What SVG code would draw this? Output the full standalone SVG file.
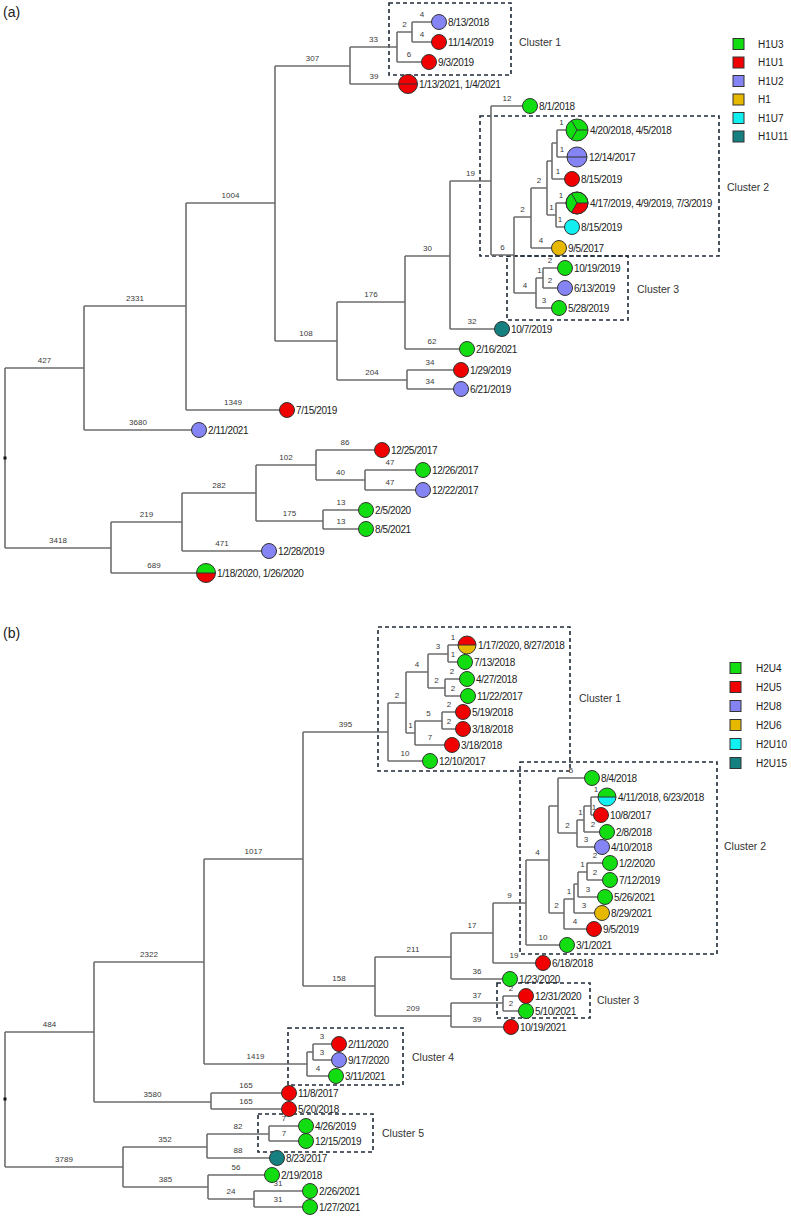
<svg xmlns="http://www.w3.org/2000/svg" width="791" height="1218" viewBox="0 0 791 1218">
<style>
.br{stroke:#6e6e6e;stroke-width:1.6;fill:none}
.bl{font-family:"Liberation Sans",Arial,sans-serif;font-size:8px;fill:#3a3a3a;text-anchor:middle}
.lf{font-family:"Liberation Sans",Arial,sans-serif;font-size:10px;letter-spacing:-0.4px;fill:#222}
.cb{fill:none;stroke:#1f2b38;stroke-width:1.6;stroke-dasharray:4 3}
.cl{font-family:"Liberation Sans",Arial,sans-serif;font-size:10.5px;fill:#333}
.lg{font-family:"Liberation Sans",Arial,sans-serif;font-size:10px;fill:#222}
.pl{font-family:"Liberation Sans",Arial,sans-serif;font-size:14px;fill:#222}
.tip{stroke:#333;stroke-width:1}
.sep{stroke:#333;stroke-width:1;fill:none}
.g{fill:#11dd11}.r{fill:#f00000}.b{fill:#8484f4}.y{fill:#e6b800}.c{fill:#11f0f0}.t{fill:#168080}
</style>

<text class="pl" x="3" y="17">(a)</text>
<text class="pl" x="3" y="638">(b)</text>

<!-- cluster outlines -->
<g id="clusters">
<rect class="cb" x="389" y="3" width="122" height="72"/>
<text class="cl" x="519" y="46">Cluster 1</text>
<rect class="cb" x="480" y="116" width="239" height="140"/>
<text class="cl" x="727" y="191">Cluster 2</text>
<rect class="cb" x="507" y="256" width="121" height="64"/>
<text class="cl" x="637" y="293">Cluster 3</text>

<rect class="cb" x="378" y="627" width="192" height="144"/>
<text class="cl" x="579" y="702">Cluster 1</text>
<rect class="cb" x="520" y="762" width="197" height="192"/>
<text class="cl" x="724" y="850">Cluster 2</text>
<rect class="cb" x="497" y="983" width="93" height="35"/>
<text class="cl" x="597" y="1004">Cluster 3</text>
<rect class="cb" x="288" y="1028" width="115" height="57"/>
<text class="cl" x="412" y="1061">Cluster 4</text>
<rect class="cb" x="258" y="1114" width="115" height="38"/>
<text class="cl" x="382" y="1137">Cluster 5</text>
</g>

<!-- branches of tree (a) -->
<g id="connectors-a">
<path class="br" d="M5 368V548 M84 306V430 M186 203V410 M275 66V341 M350 47V84 M397 32V62 M412 22V42 M337 302V380 M405 256V349 M450 181V329 M491 106V255 M514 217V293 M531 188V248 M547 161V215 M552 143V179 M557 130V157 M556 203V227 M536 278V308 M543 268V288 M407 370V389 M111 522V573 M182 493V551 M256 465V521 M316 450V480 M365 470V490 M323 510V529"/>
<path class="br" d="M5 368H84 M84 306H186 M84 430H199 M186 203H275 M186 410H287 M275 66H350 M275 341H337 M350 47H397 M350 84H408 M397 32H412 M397 62H429 M412 22H439 M412 42H439 M337 302H405 M337 380H407 M405 256H450 M405 349H467 M450 181H491 M450 329H502 M491 106H530 M491 255H514 M514 217H531 M514 293H536 M531 188H547 M531 248H559 M547 161H552 M547 215H556 M552 143H557 M552 179H572 M557 130H577 M557 157H577 M556 203H577 M556 227H572 M536 278H543 M536 308H559 M543 268H565 M543 288H565 M407 370H461 M407 389H461 M5 548H111 M111 522H182 M111 573H206 M182 493H256 M182 551H269 M256 465H316 M256 521H323 M316 450H382 M316 480H365 M365 470H423 M365 490H423 M323 510H366 M323 529H366"/>
<rect x="3.5" y="456.5" width="3" height="3" fill="#111"/>
<g id="branch-lengths-a">
<text class="bl" x="44.5" y="363">427</text>
<text class="bl" x="135" y="301">2331</text>
<text class="bl" x="138" y="425">3680</text>
<text class="bl" x="230.5" y="198">1004</text>
<text class="bl" x="233" y="405">1349</text>
<text class="bl" x="312.5" y="61">307</text>
<text class="bl" x="306" y="336">108</text>
<text class="bl" x="373.5" y="42">33</text>
<text class="bl" x="374" y="79">39</text>
<text class="bl" x="404.5" y="27">2</text>
<text class="bl" x="409" y="57">6</text>
<text class="bl" x="422" y="17">4</text>
<text class="bl" x="422" y="37">4</text>
<text class="bl" x="371" y="297">176</text>
<text class="bl" x="372" y="375">204</text>
<text class="bl" x="427.5" y="251">30</text>
<text class="bl" x="432" y="344">62</text>
<text class="bl" x="470.5" y="176">19</text>
<text class="bl" x="472" y="324">32</text>
<text class="bl" x="507" y="101">12</text>
<text class="bl" x="502.5" y="250">6</text>
<text class="bl" x="522.5" y="212">2</text>
<text class="bl" x="525" y="288">4</text>
<text class="bl" x="539" y="183">2</text>
<text class="bl" x="541" y="243">4</text>
<text class="bl" x="551.5" y="210">1</text>
<text class="bl" x="558" y="174">1</text>
<text class="bl" x="561.5" y="125">1</text>
<text class="bl" x="562" y="152">1</text>
<text class="bl" x="561" y="198">1</text>
<text class="bl" x="560" y="222">1</text>
<text class="bl" x="539.5" y="273">1</text>
<text class="bl" x="550" y="263">2</text>
<text class="bl" x="550" y="283">2</text>
<text class="bl" x="544" y="303">3</text>
<text class="bl" x="430" y="365">34</text>
<text class="bl" x="430" y="384">34</text>
<text class="bl" x="58" y="543">3418</text>
<text class="bl" x="146.5" y="517">219</text>
<text class="bl" x="154" y="568">689</text>
<text class="bl" x="219" y="488">282</text>
<text class="bl" x="222" y="546">471</text>
<text class="bl" x="286" y="460">102</text>
<text class="bl" x="289.5" y="516">175</text>
<text class="bl" x="345" y="445">86</text>
<text class="bl" x="340.5" y="475">40</text>
<text class="bl" x="390" y="465">47</text>
<text class="bl" x="390" y="485">47</text>
<text class="bl" x="341" y="505">13</text>
<text class="bl" x="341" y="524">13</text>
</g>
</g>

<!-- branches of tree (b) -->
<g id="connectors-b">
<path class="br" d="M5 1032V1167 M94 962V1102 M204 859V1064 M303 732V986 M388 703V761 M406 672V733 M428 654V688 M448 645V662 M445 679V696 M415 721V745 M442 712V729 M375 957V1016 M451 933V979 M493 903V963 M526 860V945 M549 806V913 M558 778V833 M577 820V847 M584 806V832 M591 797V815 M564 899V929 M574 884V913 M578 872V897 M587 863V880 M451 1003V1027 M503 996V1011 M307 1052V1076 M313 1044V1060 M211 1093V1109 M123 1147V1187 M207 1134V1158 M269 1126V1141 M208 1175V1199 M254 1191V1207"/>
<path class="br" d="M5 1032H94 M94 962H204 M94 1102H211 M204 859H303 M204 1064H307 M303 732H388 M303 986H375 M388 703H406 M388 761H430 M406 672H428 M406 733H415 M428 654H448 M428 688H445 M448 645H467 M448 662H465 M445 679H467 M445 696H468 M415 721H442 M415 745H452 M442 712H463 M442 729H463 M375 957H451 M375 1016H451 M451 933H493 M451 979H510 M493 903H526 M493 963H543 M526 860H549 M526 945H567 M549 806H558 M549 913H564 M558 778H592 M558 833H577 M577 820H584 M577 847H602 M584 806H591 M584 832H607 M591 797H607 M591 815H601 M564 899H574 M564 929H594 M574 884H578 M574 913H602 M578 872H587 M578 897H605 M587 863H610 M587 880H610 M451 1003H503 M451 1027H511 M503 996H526 M503 1011H526 M307 1052H313 M307 1076H336 M313 1044H339 M313 1060H339 M211 1093H289 M211 1109H289 M5 1167H123 M123 1147H207 M123 1187H208 M207 1134H269 M207 1158H277 M269 1126H306 M269 1141H306 M208 1175H272 M208 1199H254 M254 1191H310 M254 1207H310"/>
<rect x="3.5" y="1097.5" width="3" height="3" fill="#111"/>
<g id="branch-lengths-b">
<text class="bl" x="49.5" y="1027">484</text>
<text class="bl" x="149" y="957">2322</text>
<text class="bl" x="152.5" y="1097">3580</text>
<text class="bl" x="253.5" y="854">1017</text>
<text class="bl" x="255.5" y="1059">1419</text>
<text class="bl" x="345.5" y="727">395</text>
<text class="bl" x="339" y="981">158</text>
<text class="bl" x="397" y="698">2</text>
<text class="bl" x="405" y="756">10</text>
<text class="bl" x="417" y="667">4</text>
<text class="bl" x="410.5" y="728">1</text>
<text class="bl" x="438" y="649">3</text>
<text class="bl" x="436.5" y="683">2</text>
<text class="bl" x="453" y="640">1</text>
<text class="bl" x="453" y="657">1</text>
<text class="bl" x="452" y="674">2</text>
<text class="bl" x="453" y="691">2</text>
<text class="bl" x="428.5" y="716">5</text>
<text class="bl" x="430" y="740">7</text>
<text class="bl" x="449" y="707">2</text>
<text class="bl" x="449" y="724">2</text>
<text class="bl" x="413" y="952">211</text>
<text class="bl" x="413" y="1011">209</text>
<text class="bl" x="472" y="928">17</text>
<text class="bl" x="477" y="974">36</text>
<text class="bl" x="509.5" y="898">9</text>
<text class="bl" x="514" y="958">19</text>
<text class="bl" x="537.5" y="855">4</text>
<text class="bl" x="543" y="940">10</text>
<text class="bl" x="556.5" y="908">2</text>
<text class="bl" x="571" y="773">5</text>
<text class="bl" x="567.5" y="828">2</text>
<text class="bl" x="580.5" y="815">1</text>
<text class="bl" x="586" y="842">3</text>
<text class="bl" x="593" y="827">2</text>
<text class="bl" x="596" y="792">1</text>
<text class="bl" x="594" y="810">1</text>
<text class="bl" x="569" y="894">1</text>
<text class="bl" x="575" y="924">4</text>
<text class="bl" x="584" y="908">3</text>
<text class="bl" x="582.5" y="867">1</text>
<text class="bl" x="588" y="892">3</text>
<text class="bl" x="595" y="858">2</text>
<text class="bl" x="595" y="875">2</text>
<text class="bl" x="477" y="998">37</text>
<text class="bl" x="477" y="1022">39</text>
<text class="bl" x="511" y="991">2</text>
<text class="bl" x="511" y="1006">2</text>
<text class="bl" x="322" y="1039">3</text>
<text class="bl" x="322" y="1055">3</text>
<text class="bl" x="318" y="1071">4</text>
<text class="bl" x="246" y="1088">165</text>
<text class="bl" x="246" y="1104">165</text>
<text class="bl" x="64" y="1162">3789</text>
<text class="bl" x="165" y="1142">352</text>
<text class="bl" x="165.5" y="1182">385</text>
<text class="bl" x="238" y="1129">82</text>
<text class="bl" x="238" y="1153">88</text>
<text class="bl" x="284" y="1121">7</text>
<text class="bl" x="284" y="1136">7</text>
<text class="bl" x="236" y="1170">56</text>
<text class="bl" x="231" y="1194">24</text>
<text class="bl" x="278" y="1186">31</text>
<text class="bl" x="278" y="1202">31</text>
</g>
</g>

<!-- tips of tree (a) -->
<g id="a-8-13-2018"><circle class="tip b" cx="439" cy="22" r="7.5"/><text class="lf" x="448" y="25.6">8/13/2018</text></g>
<g id="a-11-14-2019"><circle class="tip r" cx="439" cy="42" r="7.5"/><text class="lf" x="448" y="45.6">11/14/2019</text></g>
<g id="a-9-3-2019"><circle class="tip r" cx="429" cy="62" r="7.5"/><text class="lf" x="438" y="65.6">9/3/2019</text></g>
<g id="a-1-13-2021"><circle class="tip r" cx="408" cy="84" r="9.5"/><path class="sep" d="M398.5 84H417.5"/><text class="lf" x="419" y="87.6">1/13/2021, 1/4/2021</text></g>
<g id="a-8-1-2018"><circle class="tip g" cx="530" cy="106" r="7.5"/><text class="lf" x="539" y="109.6">8/1/2018</text></g>
<g id="a-4-20-2018"><circle class="tip g" cx="577" cy="130" r="11"/><path class="sep" d="M577 130H588 M577 130L571.5 139.5 M577 130L571.5 120.5"/><text class="lf" x="590" y="133.6">4/20/2018, 4/5/2018</text></g>
<g id="a-12-14-2017"><circle class="tip b" cx="577" cy="157" r="10"/><path class="sep" d="M567 157H587"/><text class="lf" x="589" y="160.6">12/14/2017</text></g>
<g id="a-8-15-2019-u1"><circle class="tip r" cx="572" cy="179" r="7.5"/><text class="lf" x="581" y="182.6">8/15/2019</text></g>
<g id="a-4-17-2019"><circle class="tip g" cx="577" cy="203" r="11"/><path class="r" d="M577 203H588A11 11 0 0 1 571.5 212.5Z"/><circle cx="577" cy="203" r="11" fill="none" stroke="#333"/><path class="sep" d="M577 203H588 M577 203L571.5 212.5 M577 203L571.5 193.5"/><text class="lf" x="590" y="206.6">4/17/2019, 4/9/2019, 7/3/2019</text></g>
<g id="a-8-15-2019-u7"><circle class="tip c" cx="572" cy="227" r="7.5"/><text class="lf" x="581" y="230.6">8/15/2019</text></g>
<g id="a-9-5-2017"><circle class="tip y" cx="559" cy="248" r="7.5"/><text class="lf" x="568" y="251.6">9/5/2017</text></g>
<g id="a-10-19-2019"><circle class="tip g" cx="565" cy="268" r="7.5"/><text class="lf" x="574" y="271.6">10/19/2019</text></g>
<g id="a-6-13-2019"><circle class="tip b" cx="565" cy="288" r="7.5"/><text class="lf" x="574" y="291.6">6/13/2019</text></g>
<g id="a-5-28-2019"><circle class="tip g" cx="559" cy="308" r="7.5"/><text class="lf" x="568" y="311.6">5/28/2019</text></g>
<g id="a-10-7-2019"><circle class="tip t" cx="502" cy="329" r="7.5"/><text class="lf" x="511" y="332.6">10/7/2019</text></g>
<g id="a-2-16-2021"><circle class="tip g" cx="467" cy="349" r="7.5"/><text class="lf" x="476" y="352.6">2/16/2021</text></g>
<g id="a-1-29-2019"><circle class="tip r" cx="461" cy="370" r="7.5"/><text class="lf" x="470" y="373.6">1/29/2019</text></g>
<g id="a-6-21-2019"><circle class="tip b" cx="461" cy="389" r="7.5"/><text class="lf" x="470" y="392.6">6/21/2019</text></g>
<g id="a-7-15-2019"><circle class="tip r" cx="287" cy="410" r="7.5"/><text class="lf" x="296" y="413.6">7/15/2019</text></g>
<g id="a-2-11-2021"><circle class="tip b" cx="199" cy="430" r="7.5"/><text class="lf" x="208" y="433.6">2/11/2021</text></g>
<g id="a-12-25-2017"><circle class="tip r" cx="382" cy="450" r="7.5"/><text class="lf" x="391" y="453.6">12/25/2017</text></g>
<g id="a-12-26-2017"><circle class="tip g" cx="423" cy="470" r="7.5"/><text class="lf" x="432" y="473.6">12/26/2017</text></g>
<g id="a-12-22-2017"><circle class="tip b" cx="423" cy="490" r="7.5"/><text class="lf" x="432" y="493.6">12/22/2017</text></g>
<g id="a-2-5-2020"><circle class="tip g" cx="366" cy="510" r="7.5"/><text class="lf" x="375" y="513.6">2/5/2020</text></g>
<g id="a-8-5-2021"><circle class="tip g" cx="366" cy="529" r="7.5"/><text class="lf" x="375" y="532.6">8/5/2021</text></g>
<g id="a-12-28-2019"><circle class="tip b" cx="269" cy="551" r="7.5"/><text class="lf" x="278" y="554.6">12/28/2019</text></g>
<g id="a-1-18-2020"><path class="g" d="M196.5 573A9.5 9.5 0 0 1 215.5 573Z"/><path class="r" d="M196.5 573A9.5 9.5 0 0 0 215.5 573Z"/><circle cx="206" cy="573" r="9.5" fill="none" stroke="#333"/><path class="sep" d="M196.5 573H215.5"/><text class="lf" x="217" y="576.6">1/18/2020, 1/26/2020</text></g>

<!-- tips of tree (b) -->
<g id="b-1-17-2020"><path class="r" d="M458 645A9 9 0 0 1 476 645Z"/><path class="y" d="M458 645A9 9 0 0 0 476 645Z"/><circle cx="467" cy="645" r="9" fill="none" stroke="#333"/><path class="sep" d="M458 645H476"/><text class="lf" x="478" y="648.6">1/17/2020, 8/27/2018</text></g>
<g id="b-7-13-2018"><circle class="tip g" cx="465" cy="662" r="7.5"/><text class="lf" x="474" y="665.6">7/13/2018</text></g>
<g id="b-4-27-2018"><circle class="tip g" cx="467" cy="679" r="7.5"/><text class="lf" x="476" y="682.6">4/27/2018</text></g>
<g id="b-11-22-2017"><circle class="tip g" cx="468" cy="696" r="7.5"/><text class="lf" x="477" y="699.6">11/22/2017</text></g>
<g id="b-5-19-2018"><circle class="tip r" cx="463" cy="712" r="7.5"/><text class="lf" x="472" y="715.6">5/19/2018</text></g>
<g id="b-3-18-2018-a"><circle class="tip r" cx="463" cy="729" r="7.5"/><text class="lf" x="472" y="732.6">3/18/2018</text></g>
<g id="b-3-18-2018-b"><circle class="tip r" cx="452" cy="745" r="7.5"/><text class="lf" x="461" y="748.6">3/18/2018</text></g>
<g id="b-12-10-2017"><circle class="tip g" cx="430" cy="761" r="7.5"/><text class="lf" x="439" y="764.6">12/10/2017</text></g>
<g id="b-8-4-2018"><circle class="tip g" cx="592" cy="778" r="7.5"/><text class="lf" x="601" y="781.6">8/4/2018</text></g>
<g id="b-4-11-2018"><path class="g" d="M598 797A9 9 0 0 1 616 797Z"/><path class="c" d="M598 797A9 9 0 0 0 616 797Z"/><circle cx="607" cy="797" r="9" fill="none" stroke="#333"/><path class="sep" d="M598 797H616"/><text class="lf" x="618" y="800.6">4/11/2018, 6/23/2018</text></g>
<g id="b-10-8-2017"><circle class="tip r" cx="601" cy="815" r="7.5"/><text class="lf" x="610" y="818.6">10/8/2017</text></g>
<g id="b-2-8-2018"><circle class="tip g" cx="607" cy="832" r="7.5"/><text class="lf" x="616" y="835.6">2/8/2018</text></g>
<g id="b-4-10-2018"><circle class="tip b" cx="602" cy="847" r="7.5"/><text class="lf" x="611" y="850.6">4/10/2018</text></g>
<g id="b-1-2-2020"><circle class="tip g" cx="610" cy="863" r="7.5"/><text class="lf" x="619" y="866.6">1/2/2020</text></g>
<g id="b-7-12-2019"><circle class="tip g" cx="610" cy="880" r="7.5"/><text class="lf" x="619" y="883.6">7/12/2019</text></g>
<g id="b-5-26-2021"><circle class="tip g" cx="605" cy="897" r="7.5"/><text class="lf" x="614" y="900.6">5/26/2021</text></g>
<g id="b-8-29-2021"><circle class="tip y" cx="602" cy="913" r="7.5"/><text class="lf" x="611" y="916.6">8/29/2021</text></g>
<g id="b-9-5-2019"><circle class="tip r" cx="594" cy="929" r="7.5"/><text class="lf" x="603" y="932.6">9/5/2019</text></g>
<g id="b-3-1-2021"><circle class="tip g" cx="567" cy="945" r="7.5"/><text class="lf" x="576" y="948.6">3/1/2021</text></g>
<g id="b-6-18-2018"><circle class="tip r" cx="543" cy="963" r="7.5"/><text class="lf" x="552" y="966.6">6/18/2018</text></g>
<g id="b-1-23-2020"><circle class="tip g" cx="510" cy="979" r="7.5"/><text class="lf" x="519" y="982.6">1/23/2020</text></g>
<g id="b-12-31-2020"><circle class="tip r" cx="526" cy="996" r="7.5"/><text class="lf" x="535" y="999.6">12/31/2020</text></g>
<g id="b-5-10-2021"><circle class="tip g" cx="526" cy="1011" r="7.5"/><text class="lf" x="535" y="1014.6">5/10/2021</text></g>
<g id="b-10-19-2021"><circle class="tip r" cx="511" cy="1027" r="7.5"/><text class="lf" x="520" y="1030.6">10/19/2021</text></g>
<g id="b-2-11-2020"><circle class="tip r" cx="339" cy="1044" r="7.5"/><text class="lf" x="348" y="1047.6">2/11/2020</text></g>
<g id="b-9-17-2020"><circle class="tip b" cx="339" cy="1060" r="7.5"/><text class="lf" x="348" y="1063.6">9/17/2020</text></g>
<g id="b-3-11-2021"><circle class="tip g" cx="336" cy="1076" r="7.5"/><text class="lf" x="345" y="1079.6">3/11/2021</text></g>
<g id="b-11-8-2017"><circle class="tip r" cx="289" cy="1093" r="7.5"/><text class="lf" x="298" y="1096.6">11/8/2017</text></g>
<g id="b-5-20-2018"><circle class="tip r" cx="289" cy="1109" r="7.5"/><text class="lf" x="298" y="1112.6">5/20/2018</text></g>
<g id="b-4-26-2019"><circle class="tip g" cx="306" cy="1126" r="7.5"/><text class="lf" x="315" y="1129.6">4/26/2019</text></g>
<g id="b-12-15-2019"><circle class="tip g" cx="306" cy="1141" r="7.5"/><text class="lf" x="315" y="1144.6">12/15/2019</text></g>
<g id="b-8-23-2017"><circle class="tip t" cx="277" cy="1158" r="7.5"/><text class="lf" x="286" y="1161.6">8/23/2017</text></g>
<g id="b-2-19-2018"><circle class="tip g" cx="272" cy="1175" r="7.5"/><text class="lf" x="281" y="1178.6">2/19/2018</text></g>
<g id="b-2-26-2021"><circle class="tip g" cx="310" cy="1191" r="7.5"/><text class="lf" x="319" y="1194.6">2/26/2021</text></g>
<g id="b-1-27-2021"><circle class="tip g" cx="310" cy="1207" r="7.5"/><text class="lf" x="319" y="1210.6">1/27/2021</text></g>

<!-- legends -->
<g id="legend-a">
<rect class="tip g" x="733" y="38.5" width="11" height="11"/><text class="lg" x="758" y="47.5">H1U3</text>
<rect class="tip r" x="733" y="57" width="11" height="11"/><text class="lg" x="758" y="66">H1U1</text>
<rect class="tip b" x="733" y="75.5" width="11" height="11"/><text class="lg" x="758" y="84.5">H1U2</text>
<rect class="tip y" x="733" y="94" width="11" height="11"/><text class="lg" x="758" y="103">H1</text>
<rect class="tip c" x="733" y="112.5" width="11" height="11"/><text class="lg" x="758" y="121.5">H1U7</text>
<rect class="tip t" x="733" y="131" width="11" height="11"/><text class="lg" x="758" y="140">H1U11</text>
</g>
<g id="legend-b">
<rect class="tip g" x="730" y="662.5" width="11" height="11"/><text class="lg" x="756" y="671.5">H2U4</text>
<rect class="tip r" x="730" y="681.5" width="11" height="11"/><text class="lg" x="756" y="690.5">H2U5</text>
<rect class="tip b" x="730" y="700.5" width="11" height="11"/><text class="lg" x="756" y="709.5">H2U8</text>
<rect class="tip y" x="730" y="719.5" width="11" height="11"/><text class="lg" x="756" y="728.5">H2U6</text>
<rect class="tip c" x="730" y="738.5" width="11" height="11"/><text class="lg" x="756" y="747.5">H2U10</text>
<rect class="tip t" x="730" y="757.5" width="11" height="11"/><text class="lg" x="756" y="766.5">H2U15</text>
</g>
</svg>
